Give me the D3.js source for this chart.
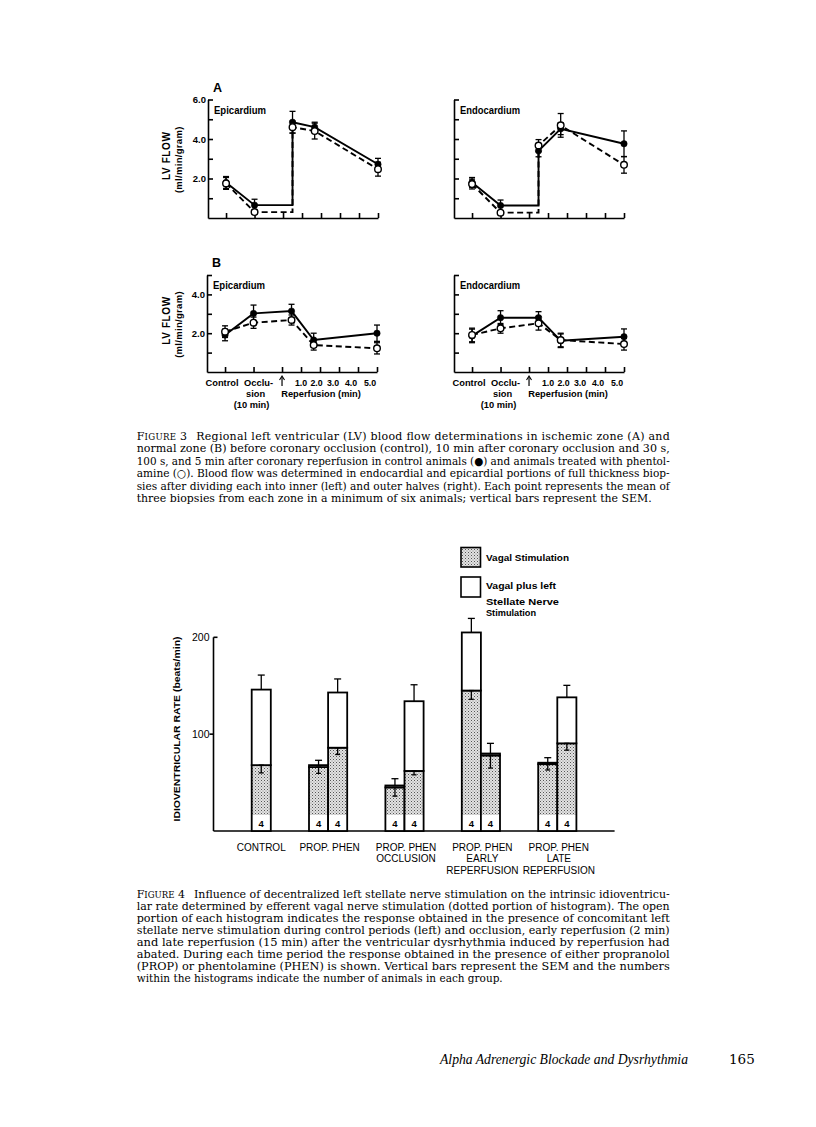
<!DOCTYPE html>
<html><head><meta charset="utf-8">
<script src="https://cdn.jsdelivr.net/npm/d3@7"></script>
<style>body{margin:0;background:#fff} svg{display:block}</style>
</head><body><svg id="c" width="816" height="1127"></svg>
<script>
// ---------------- DATA: Figure 3 ----------------
// positions along the time axis: control, occlusion (10 min), 30 s, 100 s, 5 min of reperfusion
const timePoints = [-3, -1.5, 0.5, 5/3, 5];
const xTicks = [-3, -1.5, 0, 1, 2, 3, 4, 5];
const reperfTickValues = [1, 2, 3, 4, 5];
const reperfTickLabels = ["1.0", "2.0", "3.0", "4.0", "5.0"];
const yTicksA = [1, 2, 3, 4, 5, 6];
const yLabelsA = ["2.0", "4.0", "6.0"];
const yTicksB = [1, 2, 3, 4, 5];
const yLabelsB = ["2.0", "4.0"];

// A: ischemic zone
const aEpiControl    = [1.80, 0.65, 4.85, 4.60, 2.72];
const aEpiControlSem = [0.30, 0.30, 0.55, 0.25, 0.30];
const aEpiPhen       = [1.75, 0.30, 4.60, 4.40, 2.47];
const aEpiPhenSem    = [0.30, 0.10, 0.30, 0.40, 0.35];
const aEndoControl    = [1.80, 0.63, 3.40, 4.52, 3.76];
const aEndoControlSem = [0.25, 0.28, 0.30, 0.30, 0.65];
const aEndoPhen       = [1.72, 0.27, 3.67, 4.69, 2.69];
const aEndoPhenSem    = [0.25, 0.10, 0.30, 0.60, 0.42];
// B: normal zone
const bEpiControl    = [1.91, 3.02, 3.14, 1.65, 2.00];
const bEpiControlSem = [0.30, 0.43, 0.35, 0.35, 0.42];
const bEpiPhen       = [2.08, 2.54, 2.68, 1.39, 1.22];
const bEpiPhenSem    = [0.30, 0.29, 0.26, 0.26, 0.29];
const bEndoControl    = [1.86, 2.80, 2.80, 1.61, 1.82];
const bEndoControlSem = [0.35, 0.36, 0.31, 0.35, 0.40];
const bEndoPhen       = [1.91, 2.25, 2.51, 1.65, 1.44];
const bEndoPhenSem    = [0.35, 0.25, 0.35, 0.35, 0.31];

// ---------------- DATA: Figure 4 ----------------
const groups = [["CONTROL"], ["PROP. PHEN"], ["PROP. PHEN", "OCCLUSION"], ["PROP. PHEN", "EARLY", "REPERFUSION"], ["PROP. PHEN", "LATE", "REPERFUSION"]];
const barGroup    = [0, 1, 1, 2, 2, 3, 3, 4, 4];
const vagal       = [68, 66, 86, 45, 62, 145, 78, 69, 90.5];
const vagalSem    = [8, 6.5, 7, 9, 4, 9, 13, 6, 7];
const stellate    = [146, 68, 143, 47, 134, 205, 80, 70.5, 138];
const stellateSem = [15, 5, 14, 7, 17, 14.5, 10.5, 5.2, 12.4];
const animals     = [4, 4, 4, 4, 4, 4, 4, 4, 4];
const rateTicks = [100, 200];
const legendLabels = [["Vagal Stimulation"], ["Vagal plus left", "Stellate Nerve", "Stimulation"]];

// ---------------- TEXT ----------------
const caption3First = "Regional left ventricular (LV) blood flow determinations in ischemic zone (A) and";
const caption3 = [
  "normal zone (B) before coronary occlusion (control), 10 min after coronary occlusion and 30 s,",
  "100 s, and 5 min after coronary reperfusion in control animals (\u25CF) and animals treated with phentol-",
  "amine (\u25CB). Blood flow was determined in endocardial and epicardial portions of full thickness biop-",
  "sies after dividing each into inner (left) and outer halves (right). Each point represents the mean of",
  "three biopsies from each zone in a minimum of six animals; vertical bars represent the SEM."
];
const caption4First = "Influence of decentralized left stellate nerve stimulation on the intrinsic idioventricu-";
const caption4 = [
  "lar rate determined by efferent vagal nerve stimulation (dotted portion of histogram). The open",
  "portion of each histogram indicates the response obtained in the presence of concomitant left",
  "stellate nerve stimulation during control periods (left) and occlusion, early reperfusion (2 min)",
  "and late reperfusion (15 min) after the ventricular dysrhythmia induced by reperfusion had",
  "abated. During each time period the response obtained in the presence of either propranolol",
  "(PROP) or phentolamine (PHEN) is shown. Vertical bars represent the SEM and the numbers",
  "within the histograms indicate the number of animals in each group."
];

// ---------------- DRAW ----------------
const svg = d3.select("#c");
svg.append("rect").attr("width", 816).attr("height", 1127).attr("fill", "#fff");
const SANS = "'Liberation Sans', Arial, sans-serif";
const SERIF = "'DejaVu Serif', 'Liberation Serif', serif";

function panel(cfg) {
  const g = svg.append("g");
  const x = d3.scaleLinear().domain([-3.95, 5]).range([cfg.left, cfg.left + 170]);
  const y = d3.scaleLinear().domain([0, cfg.yMax]).range([cfg.bottom, cfg.top]);
  const ya = g.append("g").attr("transform", `translate(${cfg.left},0)`)
    .call(d3.axisRight(y).tickValues(cfg.yTicks).tickSize(5).tickSizeOuter(0).tickFormat(""));
  ya.selectAll("path,line").attr("stroke", "#000").attr("stroke-width", 1.6);
  const xa = g.append("g").attr("transform", `translate(0,${cfg.bottom})`)
    .call(d3.axisTop(x).tickValues(xTicks).tickSize(5).tickSizeOuter(0).tickFormat(""));
  xa.selectAll("path,line").attr("stroke", "#000").attr("stroke-width", 1.6);
  if (cfg.yLabels) {
    cfg.yLabels.forEach(l => {
      g.append("text").attr("x", cfg.left - 2).attr("y", y(+l) + 3.5).attr("text-anchor", "end")
        .attr("font-family", SANS).attr("font-weight", "bold").attr("font-size", 9.5).text(l);
    });
    const cy = (cfg.bottom + cfg.top) / 2;
    g.append("text").attr("transform", `translate(170,${cy - 3}) rotate(-90)`).attr("text-anchor", "middle")
      .attr("font-family", SANS).attr("font-weight", "bold").attr("font-size", 10)
      .attr("letter-spacing", 0.6).text("LV FLOW");
    g.append("text").attr("transform", `translate(181.5,${cy + 1}) rotate(-90)`).attr("text-anchor", "middle")
      .attr("font-family", SANS).attr("font-weight", "bold").attr("font-size", 9.5)
      .attr("letter-spacing", 0.3).text("(ml/min/gram)");
  }
  if (cfg.letter) {
    g.append("text").attr("x", cfg.left + 5).attr("y", cfg.top - 8).attr("font-family", SANS)
      .attr("font-weight", "bold").attr("font-size", 12.5).text(cfg.letter);
  }
  g.append("text").attr("x", cfg.left + 6).attr("y", cfg.top + 14).attr("font-family", SANS)
    .attr("font-weight", "bold").attr("font-size", 10).attr("textLength", cfg.titleLen).attr("lengthAdjust", "spacingAndGlyphs").text(cfg.title);

  if (cfg.xLabels) {
    const b = cfg.bottom;
    const t = (s, xx, yy, fs) => g.append("text").attr("x", xx).attr("y", yy).attr("text-anchor", "middle")
      .attr("font-family", SANS).attr("font-weight", "bold").attr("font-size", fs || 9.3).text(s);
    t("Control", x(-3) - 3, b + 14);
    t("Occlu-", x(-1.5) + 5, b + 14);
    t("sion", x(-1.5) + 2, b + 25);
    t("(10 min)", x(-1.5) - 2, b + 36);
    const shift = [0, -3.5, -6, -7, -7];
    reperfTickValues.forEach((v, i) => t(reperfTickLabels[i], x(v) + shift[i], b + 14, 8.8));
    t("Reperfusion (min)", (x(0) + x(4)) / 2 + 1, b + 25);
    g.append("line").attr("x1", x(0)).attr("x2", x(0)).attr("y1", b + 14).attr("y2", b + 5)
      .attr("stroke", "#000").attr("stroke-width", 1.2);
    g.append("path").attr("d", `M${x(0) - 2.5},${b + 8} L${x(0)},${b + 4} L${x(0) + 2.5},${b + 8}`)
      .attr("fill", "none").attr("stroke", "#000").attr("stroke-width", 1.1);
  }

  const series = [
    { v: cfg.open, s: cfg.openSem, dash: "6,3.5", open: true },
    { v: cfg.filled, s: cfg.filledSem, dash: null, open: false }
  ];
  const line = d3.line().x(d => x(d[0])).y(d => y(d[1]));
  series.forEach(sr => {
    let pts = timePoints.map((t, i) => [t, sr.v[i]]);
    if (cfg.step) pts.splice(2, 0, [timePoints[2], sr.v[1]]);
    g.append("path").attr("d", line(pts)).attr("fill", "none").attr("stroke", "#000")
      .attr("stroke-width", 1.9).attr("stroke-dasharray", sr.dash);
  });
  series.forEach(sr => {
    timePoints.forEach((t, i) => {
      const cx = x(t), y1 = y(sr.v[i] - sr.s[i]), y2 = y(sr.v[i] + sr.s[i]);
      g.append("line").attr("x1", cx).attr("x2", cx).attr("y1", y1).attr("y2", y2).attr("stroke", "#000").attr("stroke-width", 1.3);
      [y1, y2].forEach(yy => g.append("line").attr("x1", cx - 3).attr("x2", cx + 3).attr("y1", yy).attr("y2", yy)
        .attr("stroke", "#000").attr("stroke-width", 1.3));
    });
  });
  series.slice().reverse().forEach(sr => {
    g.selectAll(null).data(timePoints).enter().append("circle")
      .attr("cx", d => x(d)).attr("cy", (d, i) => y(sr.v[i])).attr("r", sr.open ? 3.3 : 3.2)
      .attr("fill", sr.open ? "#fff" : "#000").attr("stroke", "#000").attr("stroke-width", sr.open ? 1.4 : 0.5);
  });
}

panel({ left: 208, bottom: 218, top: 99.5, yMax: 6, yTicks: yTicksA, yLabels: yLabelsA, letter: "A", title: "Epicardium", titleLen: 52,
  filled: aEpiControl, filledSem: aEpiControlSem, open: aEpiPhen, openSem: aEpiPhenSem, step: true });
panel({ left: 454, bottom: 218, top: 99.5, yMax: 6, yTicks: yTicksA, title: "Endocardium", titleLen: 60,
  filled: aEndoControl, filledSem: aEndoControlSem, open: aEndoPhen, openSem: aEndoPhenSem, step: true });
panel({ left: 207, bottom: 372, top: 275, yMax: 5, yTicks: yTicksB, yLabels: yLabelsB, letter: "B", title: "Epicardium", titleLen: 52,
  filled: bEpiControl, filledSem: bEpiControlSem, open: bEpiPhen, openSem: bEpiPhenSem, step: false, xLabels: true });
panel({ left: 454, bottom: 372, top: 275, yMax: 5, yTicks: yTicksB, title: "Endocardium", titleLen: 60,
  filled: bEndoControl, filledSem: bEndoControlSem, open: bEndoPhen, openSem: bEndoPhenSem, step: false, xLabels: true });

// ---------------- Captions ----------------
function caption(num, first, rest, y0, lh, lastLen) {
  const L = 136.7, W = 533;
  const t0 = svg.append("text").attr("x", L).attr("y", y0).attr("font-family", SERIF).attr("font-size", 11)
    .attr("textLength", W).attr("lengthAdjust", "spacing");
  t0.append("tspan").text("F");
  t0.append("tspan").attr("font-size", 8.6).text("IGURE");
  t0.append("tspan").text(" " + num);
  t0.append("tspan").attr("dx", 9).text(first);
  rest.forEach((s, i) => {
    const last = i === rest.length - 1;
    svg.append("text").attr("x", L).attr("y", y0 + lh * (i + 1)).attr("font-family", SERIF).attr("font-size", 11)
      .attr("textLength", last ? lastLen : W).attr("lengthAdjust", "spacingAndGlyphs").text(s);
  });
}
caption("3", caption3First, caption3, 440, 12.4, 515);
caption("4", caption4First, caption4, 898, 12.05, 366);

// ---------------- Figure 4 bar chart ----------------
const pat = svg.append("defs").append("pattern").attr("id", "dots").attr("patternUnits", "userSpaceOnUse")
  .attr("width", 3).attr("height", 3);
pat.append("rect").attr("width", 3).attr("height", 3).attr("fill", "#e2e2e2");
pat.append("rect").attr("x", 0).attr("y", 0).attr("width", 1).attr("height", 1).attr("fill", "#555");
pat.append("rect").attr("x", 1.5).attr("y", 1.5).attr("width", 1).attr("height", 1).attr("fill", "#888");

const slots = barGroup.map((gi, i) => i + 2 * gi);
const xb = d3.scaleLinear().domain([-2, 19]).range([213.5, 614.6]);
const yb = d3.scaleLinear().domain([0, 200]).range([831, 637.3]);
const bc = svg.append("g");
bc.append("line").attr("x1", xb(-2)).attr("x2", xb(19)).attr("y1", yb(0)).attr("y2", yb(0)).attr("stroke", "#000").attr("stroke-width", 1.6);
bc.append("line").attr("x1", xb(-2)).attr("x2", xb(-2)).attr("y1", yb(0)).attr("y2", yb(200)).attr("stroke", "#000").attr("stroke-width", 1.6);
bc.append("line").attr("x1", xb(-2)).attr("x2", xb(-2) + 4).attr("y1", yb(200)).attr("y2", yb(200)).attr("stroke", "#000").attr("stroke-width", 1.6);
bc.append("line").attr("x1", xb(-2) - 4).attr("x2", xb(-2)).attr("y1", yb(100)).attr("y2", yb(100)).attr("stroke", "#000").attr("stroke-width", 1.6);
rateTicks.forEach(v => bc.append("text").attr("x", xb(-2) - 4).attr("y", yb(v) + 4).attr("text-anchor", "end")
  .attr("font-family", SANS).attr("font-size", 10.5).text(v));
bc.append("text").attr("transform", `translate(180,${729}) rotate(-90)`).attr("text-anchor", "middle")
  .attr("font-family", SANS).attr("font-size", 9.5).attr("font-weight", "bold").attr("textLength", 185).attr("lengthAdjust", "spacingAndGlyphs")
  .text("IDIOVENTRICULAR RATE (beats/min)");

const bw = xb(1) - xb(0);
vagal.forEach((v, i) => {
  const x0 = xb(slots[i]);
  bc.append("rect").attr("x", x0).attr("y", yb(v)).attr("width", bw).attr("height", yb(0) - yb(v)).attr("fill", "url(#dots)");
  bc.append("rect").attr("x", x0).attr("y", yb(16.5)).attr("width", bw).attr("height", yb(0) - yb(16.5)).attr("fill", "#fff");
  bc.append("text").attr("x", x0 + bw / 2).attr("y", yb(0) - 4.5).attr("text-anchor", "middle")
    .attr("font-family", SANS).attr("font-weight", "bold").attr("font-size", 9.5).text(animals[i]);
  bc.append("rect").attr("x", x0).attr("y", yb(v)).attr("width", bw).attr("height", yb(0) - yb(v))
    .attr("fill", "none").attr("stroke", "#000").attr("stroke-width", 1.8);
  const s = stellate[i];
  bc.append("rect").attr("x", x0).attr("y", yb(s)).attr("width", bw).attr("height", yb(v) - yb(s))
    .attr("fill", "#fff").attr("stroke", "#000").attr("stroke-width", 1.8);
  const cx = x0 + bw / 2;
  const ya1 = yb(v), ya2 = yb(v - vagalSem[i]);
  bc.append("line").attr("x1", cx).attr("x2", cx).attr("y1", ya1).attr("y2", ya2).attr("stroke", "#000").attr("stroke-width", 1.3);
  [ya1, ya2].forEach(yy => bc.append("line").attr("x1", cx - 2.5).attr("x2", cx + 2.5).attr("y1", yy).attr("y2", yy).attr("stroke", "#000").attr("stroke-width", 1.3));
  const yo1 = yb(s), yo2 = yb(s + stellateSem[i]);
  bc.append("line").attr("x1", cx).attr("x2", cx).attr("y1", yo1).attr("y2", yo2).attr("stroke", "#000").attr("stroke-width", 1.3);
  bc.append("line").attr("x1", cx - 3.5).attr("x2", cx + 3.5).attr("y1", yo2).attr("y2", yo2).attr("stroke", "#000").attr("stroke-width", 1.3);
});

groups.forEach((lines, gi) => {
  const idx = barGroup.map((g, i) => g === gi ? slots[i] : null).filter(d => d !== null);
  const cx = (xb(d3.min(idx)) + xb(d3.max(idx) + 1)) / 2 + (gi === 0 ? 0 : 1.5);
  lines.forEach((l, k) => bc.append("text").attr("x", cx).attr("y", 850.5 + k * 11.7).attr("text-anchor", "middle")
    .attr("font-family", SANS).attr("font-size", 10).text(l));
});

// legend
const lg = svg.append("g");
lg.append("rect").attr("x", 461).attr("y", 547.5).attr("width", 19.5).attr("height", 19.5).attr("fill", "url(#dots)").attr("stroke", "#000").attr("stroke-width", 1.6);
lg.append("rect").attr("x", 461).attr("y", 577).attr("width", 19.5).attr("height", 20).attr("fill", "#fff").attr("stroke", "#000").attr("stroke-width", 1.6);
const legendLines = [[legendLabels[0][0], 561, 83], [legendLabels[1][0], 589, 70], [legendLabels[1][1], 604.5, 73], [legendLabels[1][2], 616, 50]];
legendLines.forEach(([s, yy, w]) => lg.append("text").attr("x", 486).attr("y", yy).attr("font-family", SANS)
  .attr("font-weight", "bold").attr("font-size", 9.8).attr("textLength", w).attr("lengthAdjust", "spacingAndGlyphs").text(s));

// footer
svg.append("text").attr("x", 440).attr("y", 1064).attr("font-family", "'Liberation Serif', serif").attr("font-style", "italic").attr("font-size", 14)
  .attr("textLength", 248).attr("lengthAdjust", "spacingAndGlyphs").text("Alpha Adrenergic Blockade and Dysrhythmia");
svg.append("text").attr("x", 729).attr("y", 1064).attr("font-family", SERIF).attr("font-size", 13.5).text("165");
</script></body></html>
